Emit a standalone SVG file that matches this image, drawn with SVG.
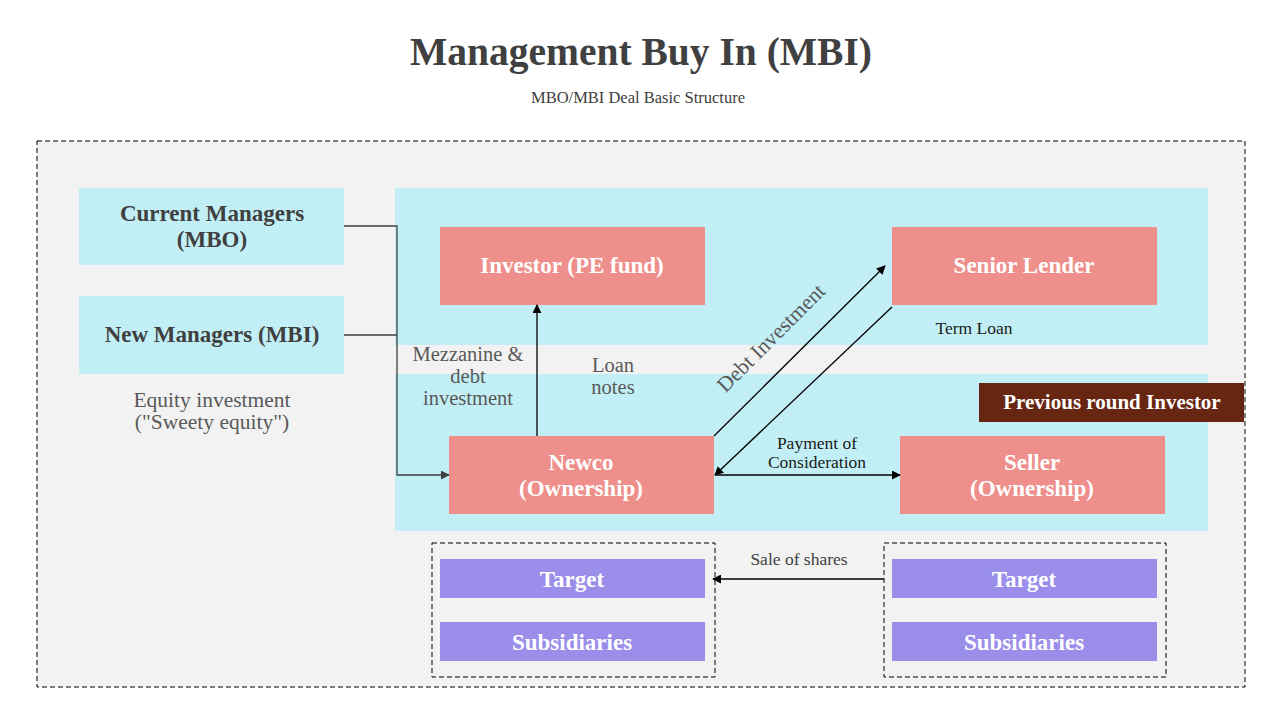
<svg xmlns="http://www.w3.org/2000/svg" width="1280" height="720" viewBox="0 0 1280 720">
<defs>
<marker id="ah" viewBox="0 0 10 10" refX="9" refY="5" markerWidth="9" markerHeight="9" markerUnits="userSpaceOnUse" orient="auto">
<path d="M0,0 L10,5 L0,10 z" fill="#000"/>
</marker>
<marker id="ahg" viewBox="0 0 10 10" refX="9" refY="5" markerWidth="9" markerHeight="9" markerUnits="userSpaceOnUse" orient="auto">
<path d="M0,0 L10,5 L0,10 z" fill="#404040"/>
</marker>
</defs>
<style>
text{font-family:"Liberation Serif","DejaVu Serif",serif;text-anchor:middle}
.t{font-size:39.5px;font-weight:bold;fill:#404040}
.sub{font-size:16.5px;fill:#404040}
.cy{fill:#c2eff5}
.pk{fill:#ee8f8b}
.pu{fill:#9b8dea}
.bn{font-size:23px;font-weight:bold;fill:#404040}
.bw{font-size:23px;font-weight:bold;fill:#fff}
.lbl{font-size:20.5px;fill:#595959}
.sm{font-size:17.5px;fill:#1a1a1a}
.dash{fill:none;stroke:#000;stroke-width:1;stroke-dasharray:5,3}
.c{fill:none;stroke:#000;stroke-width:1.3}
.cg{fill:none;stroke:#404040;stroke-width:1.3}
</style>
<rect width="1280" height="720" fill="#fff"/>
<text class="t" x="641" y="65">Management Buy In (MBI)</text>
<text class="sub" x="638" y="103">MBO/MBI Deal Basic Structure</text>
<rect x="37" y="141" width="1208" height="546" class="dash" style="fill:#f2f2f2"/>
<g id="bands">
<rect class="cy" x="395" y="188" width="813" height="157"/>
<rect class="cy" x="395" y="374" width="813" height="157"/>
</g>
<g id="current-managers">
<rect class="cy" x="79" y="188" width="265" height="77"/>
<text class="bn" x="212" y="221">Current Managers</text>
<text class="bn" x="212" y="247">(MBO)</text>
</g>
<g id="new-managers">
<rect class="cy" x="79" y="296" width="265" height="78"/>
<text class="bn" x="212" y="342">New Managers (MBI)</text>
</g>
<g id="equity-label">
<text class="lbl" x="212" y="407" style="font-size:21.5px">Equity investment</text>
<text class="lbl" x="212" y="429" style="font-size:21.5px">("Sweety equity")</text>
</g>
<g id="investor">
<rect class="pk" x="440" y="227" width="265" height="78"/>
<text class="bw" x="572" y="273">Investor (PE fund)</text>
</g>
<g id="senior-lender">
<rect class="pk" x="892" y="227" width="265" height="78"/>
<text class="bw" x="1024" y="273">Senior Lender</text>
</g>
<g id="newco">
<rect class="pk" x="449" y="436" width="265" height="78"/>
<text class="bw" x="581" y="470">Newco</text>
<text class="bw" x="581" y="496">(Ownership)</text>
</g>
<g id="seller">
<rect class="pk" x="900" y="436" width="265" height="78"/>
<text class="bw" x="1032" y="470">Seller</text>
<text class="bw" x="1032" y="496">(Ownership)</text>
</g>
<g id="previous-round-investor">
<rect x="979" y="383" width="265" height="39" fill="#662612"/>
<text class="bw" x="1112" y="409" style="font-size:21px">Previous round Investor</text>
</g>
<g id="target-group-left">
<rect class="dash" x="432" y="543" width="283" height="134"/>
<rect class="pu" x="440" y="559" width="265" height="39"/>
<text class="bw" x="572" y="587">Target</text>
<rect class="pu" x="440" y="622" width="265" height="39"/>
<text class="bw" x="572" y="650">Subsidiaries</text>
</g>
<g id="target-group-right">
<rect class="dash" x="884" y="543" width="282" height="134"/>
<rect class="pu" x="892" y="559" width="265" height="39"/>
<text class="bw" x="1024" y="587">Target</text>
<rect class="pu" x="892" y="622" width="265" height="39"/>
<text class="bw" x="1024" y="650">Subsidiaries</text>
</g>
<g id="connectors">
<polyline class="cg" points="344,226 397,226 397,475 449,475" marker-end="url(#ahg)"/>
<line class="cg" x1="344" y1="335" x2="397" y2="335"/>
<line class="c" x1="537" y1="436" x2="537" y2="305" marker-end="url(#ah)"/>
<line class="c" x1="714" y1="436" x2="885" y2="266" marker-end="url(#ah)"/>
<line class="c" x1="892" y1="307" x2="715" y2="475" marker-end="url(#ah)"/>
<line class="c" x1="715" y1="475" x2="900" y2="475" marker-end="url(#ah)"/>
<line class="c" x1="884" y1="579" x2="713" y2="579" marker-end="url(#ah)"/>
</g>
<g id="connector-labels">
<text class="lbl" x="468" y="361">Mezzanine &amp;</text>
<text class="lbl" x="468" y="383">debt</text>
<text class="lbl" x="468" y="405">investment</text>
<text class="lbl" x="613" y="372">Loan</text>
<text class="lbl" x="613" y="394">notes</text>
<text class="lbl" transform="translate(776,343) rotate(-45)" x="0" y="0" style="font-size:21.5px">Debt Investment</text>
<text class="sm" x="974" y="334">Term Loan</text>
<text class="sm" x="817" y="449">Payment of</text>
<text class="sm" x="817" y="468">Consideration</text>
<text class="sm" x="799" y="565" style="fill:#404040">Sale of shares</text>
</g>
</svg>
